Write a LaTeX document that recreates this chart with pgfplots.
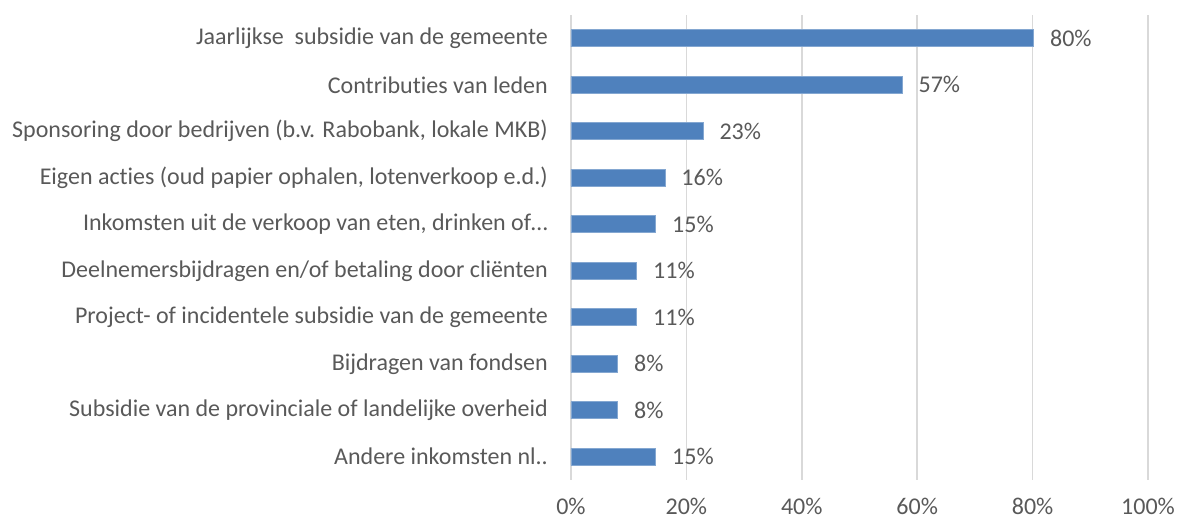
\documentclass[border=0pt]{standalone}
\usepackage{pgfplots}
\usepackage{pgfplotstable}
\usepackage{fontspec}
\setmainfont[Ligatures={NoCommon}]{Carlito}
\pgfplotsset{compat=1.18}
\definecolor{barblue}{HTML}{4F81BD}
\definecolor{txtgray}{HTML}{595959}
\definecolor{gridgray}{HTML}{D9D9D9}
\pgfplotstableread{
y x
0 80.2
1 57.4
2 22.9
3 16.3
4 14.7
5 11.4
6 11.4
7 8.1
8 8.1
9 14.7
}\datatable
\begin{document}
\begin{tikzpicture}
\path[use as bounding box] (-571pt,-40pt) rectangle (607pt,480pt);
\begin{axis}[
  at={(0pt,0pt)}, anchor=south west,
  scale only axis,
  width=577pt, height=465pt,
  xmin=0, xmax=100,
  ymin=-0.5, ymax=9.5,
  y dir=reverse,
  xbar,
  bar width=17pt,
  axis line style={draw=none},
  major tick length=0pt,
  xtick={0,20,40,60,80,100},
  xticklabels={0\%,20\%,40\%,60\%,80\%,100\%},
  ytick={0,...,9},
  yticklabels={
    Jaarlijkse\ \ subsidie van de gemeente,
    Contributies van leden,
    {Sponsoring door bedrijven (b.v. Rabobank, lokale MKB)},
    {Eigen acties (oud papier ophalen, lotenverkoop e.d.)},
    {Inkomsten uit de verkoop van eten, drinken of…},
    Deelnemersbijdragen en/of betaling door cliënten,
    Project- of incidentele subsidie van de gemeente,
    Bijdragen van fondsen,
    Subsidie van de provinciale of landelijke overheid,
    Andere inkomsten nl..
  },
  xmajorgrids,
  grid style={gridgray, line width=1.5pt},
  tick label style={font=\fontsize{24}{28}\selectfont, text=txtgray},
  yticklabel style={inner sep=0pt, xshift=-23pt},
  xticklabel style={inner sep=0pt, yshift=-18pt},
  /pgf/number format/assume math mode=true,
  nodes near coords={\pgfmathprintnumber[fixed,precision=0,assume math mode=true]{\pgfplotspointmeta}\%},
  point meta=x,
  nodes near coords style={anchor=west, inner sep=0pt, xshift=16pt, font=\fontsize{24}{28}\selectfont, text=txtgray},
]
\addplot[fill=barblue, draw=barblue!70!white, line width=0.8pt] table[x=x, y=y] {\datatable};
\end{axis}
\end{tikzpicture}
\end{document}
